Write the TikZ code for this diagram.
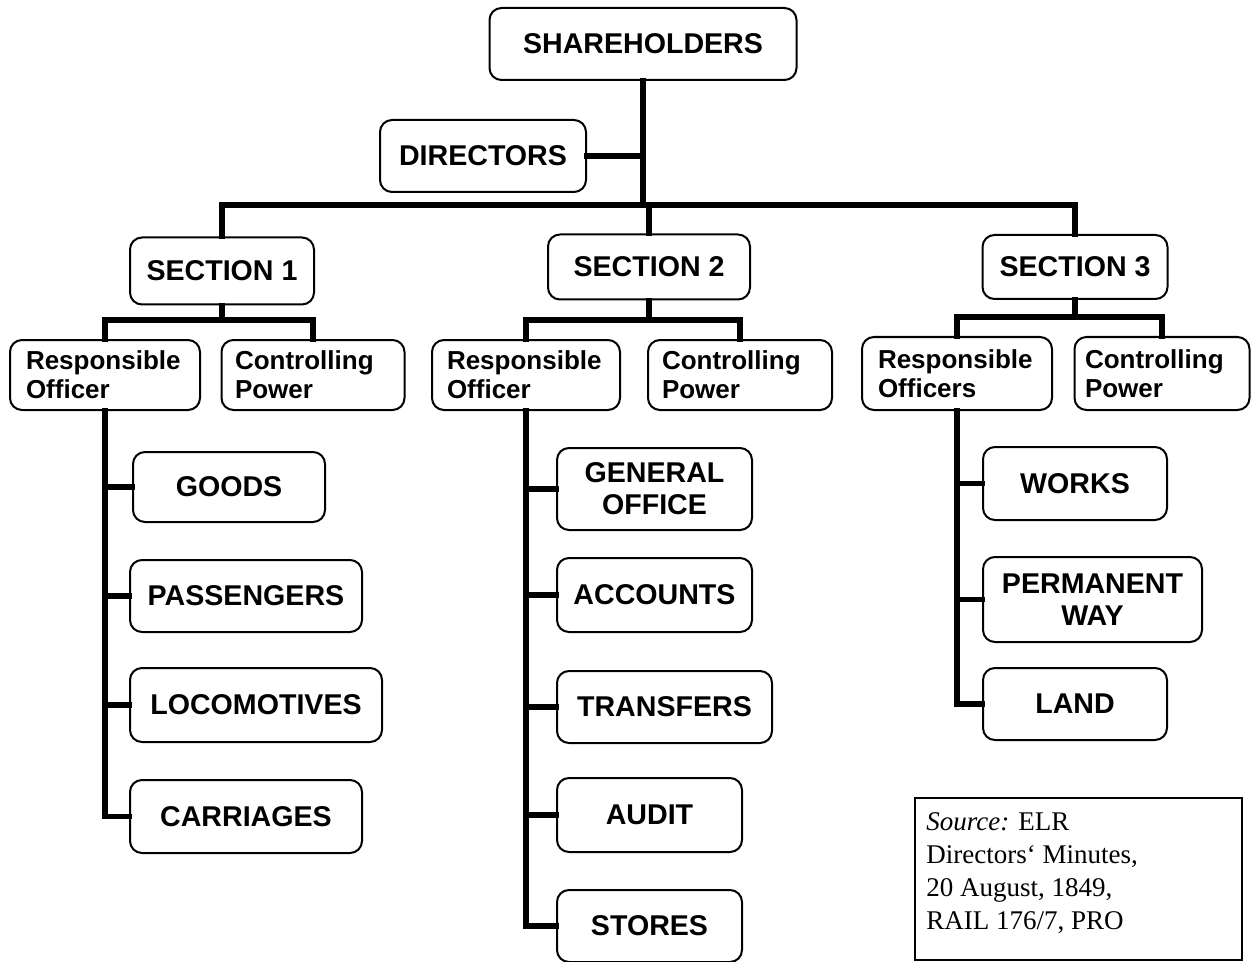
\documentclass[tikz,border=0pt]{standalone}
\usepackage{fontspec}
\setmainfont{Liberation Serif}
\newfontfamily\arialfont{Liberation Sans}
\begin{document}
\begin{tikzpicture}[x=0.5pt,y=-0.5pt,
  box/.style={draw, line width=1pt, rounded corners=6pt, inner sep=0pt, align=center},
  big/.style={box, font=\arialfont\bfseries\fontsize{14.3}{16}\selectfont},
  small/.style={box, font=\arialfont\bfseries\fontsize{13}{14.5}\selectfont, align=left, text width=#1},
  conn/.style={line width=2.6pt, line cap=rect}]
\useasboundingbox (0,0) rectangle (1251,962);
% top
\node[big, minimum width=153.5pt, minimum height=36pt] (sh) at (643,44) {SHAREHOLDERS};
\node[big, minimum width=103pt, minimum height=36pt] (dir) at (483,156) {DIRECTORS};
% sections
\node[big, minimum width=92pt, minimum height=33.5pt] (s1) at (222,271) {SECTION 1};
\node[big, minimum width=101pt, minimum height=32.5pt] (s2) at (649,267) {SECTION 2};
\node[big, minimum width=92.5pt, minimum height=32pt] (s3) at (1075,267) {SECTION 3};
\coordinate (topbar) at (643,205);
% officers / power
\node[small=79pt, minimum width=95pt, minimum height=35pt] (ro1) at (105,375) {Responsible\\Officer};
\node[small=78pt, minimum width=91.5pt, minimum height=35pt] (cp1) at (313,375) {Controlling\\Power};
\node[small=79pt, minimum width=94pt, minimum height=35pt] (ro2) at (526,375) {Responsible\\Officer};
\node[small=78pt, minimum width=92pt, minimum height=35pt] (cp2) at (740,375) {Controlling\\Power};
\node[small=79pt, minimum width=95pt, minimum height=36.5pt] (ro3) at (957,373.5) {Responsible\\Officers};
\node[small=77pt, minimum width=87.5pt, minimum height=36.5pt] (cp3) at (1162,373.5) {Controlling\\Power};
\coordinate (b1) at (222,320);
\coordinate (b2) at (649,320);
\coordinate (b3) at (1075,317);
% section 1 children
\node[big, minimum width=96pt, minimum height=35pt] (goods) at (229,487) {GOODS};
\node[big, minimum width=116pt, minimum height=36pt] (pass) at (246,596) {PASSENGERS};
\node[big, minimum width=126pt, minimum height=37pt] (loco) at (256,705) {LOCOMOTIVES};
\node[big, minimum width=116pt, minimum height=36.5pt] (carr) at (246,816.5) {CARRIAGES};
% section 2 children
\node[big, minimum width=97.5pt, minimum height=41pt] (gen) at (654.5,489) {GENERAL\\OFFICE};
\node[big, minimum width=97.5pt, minimum height=37pt] (acc) at (654.5,595) {ACCOUNTS};
\node[big, minimum width=107.5pt, minimum height=36pt] (trans) at (664.5,707) {TRANSFERS};
\node[big, minimum width=92.5pt, minimum height=37pt] (aud) at (649.5,815) {AUDIT};
\node[big, minimum width=92.5pt, minimum height=36pt] (sto) at (649.5,926) {STORES};
% section 3 children
\node[big, minimum width=92pt, minimum height=36.5pt] (works) at (1075,483.5) {WORKS};
\node[big, minimum width=109.5pt, minimum height=42.5pt] (perm) at (1092.5,599.5) {PERMANENT\\WAY};
\node[big, minimum width=92pt, minimum height=36pt] (land) at (1075,704) {LAND};
% source
\node[draw, line width=1pt, rectangle, minimum width=163.5pt, minimum height=81pt, inner sep=0pt] (src) at (1078.5,879) {};
\node[anchor=north west, align=left, inner sep=0pt, font=\fontsize{13.5}{16.5}\selectfont] (srctext) at (926,812) {\textit{Source:} ELR\\Directors\symbol{96} Minutes,\\20 August, 1849,\\RAIL 176/7, PRO};
% connectors
\draw[conn] (sh.south) -- (topbar);
\draw[conn] (dir.east) -- (dir.east -| topbar);
\draw[conn] (s1.north) |- (topbar) -| (s3.north);
\draw[conn] (s2.north) -- (s2.north |- topbar);
\draw[conn] (s1.south) -- (b1);
\draw[conn] (ro1.north) |- (b1) -| (cp1.north);
\draw[conn] (s2.south) -- (b2);
\draw[conn] (ro2.north) |- (b2) -| (cp2.north);
\draw[conn] (s3.south) -- (b3);
\draw[conn] (ro3.north) |- (b3) -| (cp3.north);
\draw[conn] (ro1.south) |- (carr.west);
\draw[conn] (goods.west) -- (goods.west -| ro1.south);
\draw[conn] (pass.west) -- (pass.west -| ro1.south);
\draw[conn] (loco.west) -- (loco.west -| ro1.south);
\draw[conn] (ro2.south) |- (sto.west);
\draw[conn] (gen.west) -- (gen.west -| ro2.south);
\draw[conn] (acc.west) -- (acc.west -| ro2.south);
\draw[conn] (trans.west) -- (trans.west -| ro2.south);
\draw[conn] (aud.west) -- (aud.west -| ro2.south);
\draw[conn] (ro3.south) |- (land.west);
\draw[conn] (works.west) -- (works.west -| ro3.south);
\draw[conn] (perm.west) -- (perm.west -| ro3.south);
\end{tikzpicture}
\end{document}
